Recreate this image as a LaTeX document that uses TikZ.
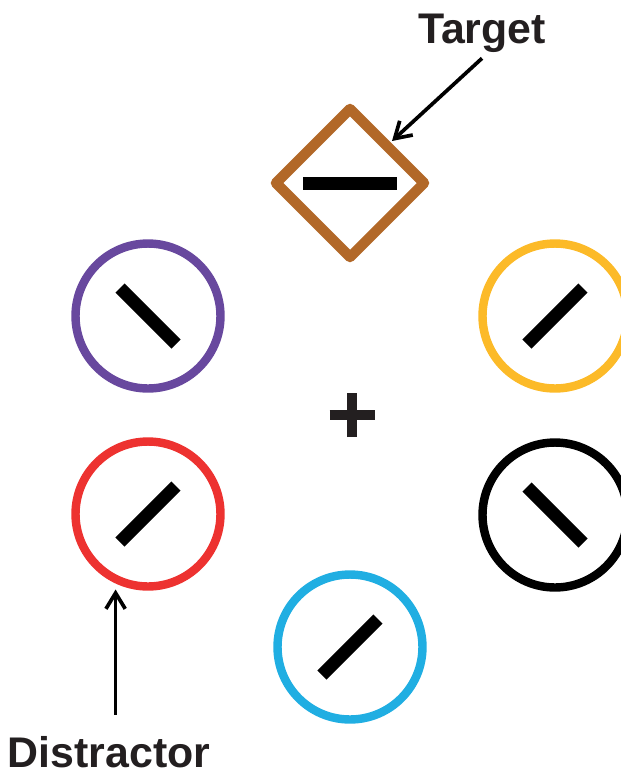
\documentclass[tikz,border=0pt]{standalone}
\usepackage{fontspec}
\setmainfont{Liberation Sans}
\usepackage{xcolor}
\definecolor{stimpurple}{RGB}{104,72,158}
\definecolor{stimgold}{RGB}{252,186,40}
\definecolor{stimred}{RGB}{237,50,48}
\definecolor{stimblue}{RGB}{32,174,226}
\definecolor{stimbrown}{RGB}{178,104,40}
\definecolor{fixdark}{RGB}{35,31,32}
\usetikzlibrary{arrows.meta,positioning,shapes.geometric,calc}

\begin{document}
\begin{tikzpicture}[x=0.02cm, y=0.02cm,
  ring/.style={circle, line width=4.8pt, minimum size=2.9cm, inner sep=0pt},
  tbar/.style={line width=7.4pt, line cap=butt},
  pointer/.style={-{Straight Barb[length=9pt,width=11pt]}, line width=2.1pt},
  lbl/.style={font=\fontsize{24.4}{29}\selectfont\bfseries, text=fixdark, anchor=base}]
% Frame
\useasboundingbox (0,0) rectangle (621,-775);

% Target diamond
\node[diamond, draw=stimbrown, line width=5.9pt, line join=round,
  minimum width=3.08cm, minimum height=3.08cm, inner sep=0pt, outer sep=4pt]
  (target) at (350,-183) {};
\draw[tbar] ($(target)+(-47,0)$) -- ($(target)+(47,0)$);

% Distractor rings
\node[ring, draw=stimpurple] (upleft) at (148,-316) {};
\node[ring, draw=stimgold] (upright) at (555,-316) {};
\node[ring, draw=stimred] (lowleft) at (148,-514) {};
\node[ring, draw=black] (lowright) at (555,-515) {};
\node[ring, draw=stimblue] (bottom) at (350,-647) {};

% Tilted bars
\foreach \s in {upleft,lowright}
  \draw[tbar] ($(\s)+(-28,28)$) -- ($(\s)+(28,-28)$);
\foreach \s in {upright,lowleft,bottom}
  \draw[tbar] ($(\s)+(-28,-28)$) -- ($(\s)+(28,28)$);

% Fixation cross
\coordinate (fix) at (352,-415);
\draw[fixdark, line width=6.2pt] ($(fix)+(-22.5,0)$) -- ($(fix)+(22.5,0)$)
  ($(fix)+(0,-22)$) -- ($(fix)+(0,22)$);

% Labels
\node[lbl] (tlabel) at (482,-43) {Target};
\node[lbl] (dlabel) at (109,-767) {Distractor};

% Pointers
\draw[pointer] (tlabel.south) -- (target.north east);
\coordinate (dtail) at ($(dlabel.north -| lowleft.245)+(0,15)$);
\draw[pointer, shorten >=3.4pt] (dtail) -- (lowleft.245);

\end{tikzpicture}
\end{document}
